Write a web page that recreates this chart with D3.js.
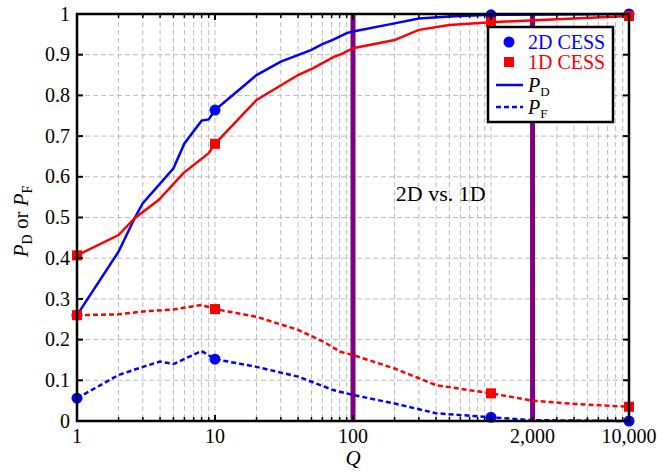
<!DOCTYPE html>
<html>
<head>
<meta charset="utf-8">
<script src="https://cdn.jsdelivr.net/npm/d3@7"></script>
<style>
  body { margin: 0; background: #fff; }
  text { font-family: "Liberation Serif", "DejaVu Serif", serif; }
</style>
</head>
<body>
<div id="chart"></div>
<script>

////////// DATA //////////

// 2D CESS, detection probability
var q2dPD = [1, 2, 2.63, 3, 5, 6, 8, 9, 10, 20, 30, 50, 60, 72, 90, 100, 200, 300, 500, 1000, 10000];
var v2dPD = [0.26, 0.416, 0.5, 0.535, 0.621, 0.682, 0.738, 0.741, 0.764, 0.85, 0.883, 0.912, 0.926, 0.937, 0.953, 0.957, 0.977, 0.989, 0.994, 0.998, 1.0];

// 1D CESS, detection probability
var q1dPD = [1, 2, 2.63, 3.9, 5.9, 9, 10, 20, 40, 51.5, 72, 83, 100, 200, 300, 500, 1000, 10000];
var v1dPD = [0.407, 0.457, 0.499, 0.543, 0.609, 0.658, 0.681, 0.789, 0.85, 0.867, 0.894, 0.902, 0.916, 0.936, 0.961, 0.973, 0.98, 0.995];

// 2D CESS, false alarm probability
var q2dPF = [1, 2, 3, 4, 5, 8, 10, 20, 40, 72, 100, 200, 400, 1000, 2000, 10000];
var v2dPF = [0.056, 0.113, 0.133, 0.146, 0.14, 0.172, 0.152, 0.133, 0.109, 0.076, 0.064, 0.043, 0.019, 0.009, 0.002, 0.0];

// 1D CESS, false alarm probability
var q1dPF = [1, 2, 3, 5, 8, 10, 20, 40, 61, 81, 100, 200, 400, 1000, 2000, 4000, 10000];
var v1dPF = [0.26, 0.262, 0.269, 0.274, 0.285, 0.275, 0.256, 0.224, 0.195, 0.17, 0.162, 0.129, 0.088, 0.068, 0.05, 0.042, 0.035];

// marker positions
var markerQ = [1, 10, 1000, 10000];

var xTickValues = [1, 10, 100, 2000, 10000];
var xTickLabels = ["1", "10", "100", "2,000", "10,000"];
var yTickValues = [0, 0.1, 0.2, 0.3, 0.4, 0.5, 0.6, 0.7, 0.8, 0.9, 1];
var boundaries = [100, 2000];


////////// SETUP //////////

var width = 670, height = 472;
var margin = { top: 14, right: 41, bottom: 51, left: 77 };
var innerW = width - margin.left - margin.right;
var innerH = height - margin.top - margin.bottom;

var blue = "#0000ff", red = "#ff0000", purple = "#800080";

var x = d3.scaleLog()
    .domain([1, 10000])
    .range([0, innerW]);

var y = d3.scaleLinear()
    .domain([0, 1])
    .range([innerH, 0]);

var svg = d3.select("#chart")
  .append("svg")
    .attr("width", width)
    .attr("height", height);

var g = svg.append("g")
    .attr("transform", "translate(" + margin.left + "," + margin.top + ")");

// minor log positions 1..9 per decade
var logTicks = [];
[1, 10, 100, 1000].forEach(function(dec) {
  for (var k = 1; k < 10; k++) logTicks.push(dec * k);
});
logTicks.push(10000);


////////// GRID //////////

var grid = g.append("g").attr("class", "grid");

grid.selectAll(".vgrid")
    .data(logTicks.slice(1, -1))
    .enter()
    .append("line")
    .attr("x1", function(d) { return x(d); })
    .attr("x2", function(d) { return x(d); })
    .attr("y1", 0)
    .attr("y2", innerH)
    .style("stroke", "#bdbdbd")
    .style("stroke-width", 1)
    .style("stroke-dasharray", "5,3");

grid.selectAll(".hgrid")
    .data(yTickValues.slice(1, -1))
    .enter()
    .append("line")
    .attr("x1", 0)
    .attr("x2", innerW)
    .attr("y1", function(d) { return y(d); })
    .attr("y2", function(d) { return y(d); })
    .style("stroke", "#bdbdbd")
    .style("stroke-width", 1)
    .style("stroke-dasharray", "5,3");


////////// BOUNDARY LINES //////////

g.selectAll(".boundary")
    .data(boundaries)
    .enter()
    .append("line")
    .attr("x1", function(d) { return x(d); })
    .attr("x2", function(d) { return x(d); })
    .attr("y1", 0)
    .attr("y2", innerH)
    .style("stroke", purple)
    .style("stroke-width", 5);

g.append("text")
    .attr("x", (x(100) + x(2000)) / 2 - 2)
    .attr("y", y(0.54))
    .attr("text-anchor", "middle")
    .style("font-size", "22px")
    .text("2D vs. 1D");


////////// CURVES //////////

var line = d3.line()
    .x(function(d) { return x(d[0]); })
    .y(function(d) { return y(d[1]); });

function pairs(qs, vs) {
  return qs.map(function(q, i) { return [q, vs[i]]; });
}

var series = [
  { q: q2dPF, v: v2dPF, color: blue, dash: "5,3" },
  { q: q2dPD, v: v2dPD, color: blue, dash: null },
  { q: q1dPF, v: v1dPF, color: red, dash: "5,3" },
  { q: q1dPD, v: v1dPD, color: red, dash: null }
];

series.forEach(function(s) {
  g.append("path")
      .datum(pairs(s.q, s.v))
      .attr("d", line)
      .style("fill", "none")
      .style("stroke", s.color)
      .style("stroke-width", 2.5)
      .style("stroke-dasharray", s.dash);
});

// markers
function valueAt(qs, vs, q) { return vs[qs.indexOf(q)]; }

[[q2dPD, v2dPD], [q2dPF, v2dPF]].forEach(function(s) {
  g.selectAll(null)
      .data(markerQ)
      .enter()
      .append("circle")
      .attr("cx", function(d) { return x(d); })
      .attr("cy", function(d) { return y(valueAt(s[0], s[1], d)); })
      .attr("r", 5.5)
      .style("fill", blue);
});

[[q1dPD, v1dPD], [q1dPF, v1dPF]].forEach(function(s) {
  g.selectAll(null)
      .data(markerQ)
      .enter()
      .append("rect")
      .attr("x", function(d) { return x(d) - 5; })
      .attr("y", function(d) { return y(valueAt(s[0], s[1], d)) - 5; })
      .attr("width", 10)
      .attr("height", 10)
      .style("fill", red);
});


////////// AXES //////////

var ticks = g.append("g").attr("class", "ticks");

// x ticks bottom and top (inward)
logTicks.forEach(function(d) {
  var major = [1, 10, 100, 1000, 10000].indexOf(d) >= 0;
  var len = major ? 6 : 4;
  ticks.append("line")
      .attr("x1", x(d)).attr("x2", x(d))
      .attr("y1", innerH).attr("y2", innerH - len)
      .style("stroke", "#000").style("stroke-width", major ? 2 : 1.5);
  ticks.append("line")
      .attr("x1", x(d)).attr("x2", x(d))
      .attr("y1", 0).attr("y2", len)
      .style("stroke", "#000").style("stroke-width", major ? 2 : 1.5);
});

// y ticks left and right (inward)
yTickValues.forEach(function(d) {
  ticks.append("line")
      .attr("x1", 0).attr("x2", 6)
      .attr("y1", y(d)).attr("y2", y(d))
      .style("stroke", "#000").style("stroke-width", 2);
  ticks.append("line")
      .attr("x1", innerW).attr("x2", innerW - 6)
      .attr("y1", y(d)).attr("y2", y(d))
      .style("stroke", "#000").style("stroke-width", 2);
});

// frame
g.append("rect")
    .attr("x", 0)
    .attr("y", 0)
    .attr("width", innerW)
    .attr("height", innerH)
    .style("fill", "none")
    .style("stroke", "#000")
    .style("stroke-width", 2.5);

// tick labels
g.selectAll(".xlabel")
    .data(xTickValues)
    .enter()
    .append("text")
    .attr("x", function(d) { return x(d); })
    .attr("y", innerH + 22)
    .attr("text-anchor", "middle")
    .style("font-size", "20px")
    .text(function(d, i) { return xTickLabels[i]; });

g.selectAll(".ylabel")
    .data(yTickValues)
    .enter()
    .append("text")
    .attr("x", -7)
    .attr("y", function(d) { return y(d); })
    .attr("dy", "0.33em")
    .attr("text-anchor", "end")
    .style("font-size", "20px")
    .text(function(d) { return (d === 0 || d === 1) ? d : d.toFixed(1); });

// axis titles
g.append("text")
    .attr("x", innerW / 2)
    .attr("y", innerH + 44)
    .attr("text-anchor", "middle")
    .style("font-size", "21px")
    .style("font-style", "italic")
    .text("Q");

var yTitle = svg.append("text")
    .attr("transform", "translate(28," + (margin.top + innerH / 2 + 4) + ") rotate(-90)")
    .attr("text-anchor", "middle")
    .style("font-size", "21px");
yTitle.append("tspan").style("font-style", "italic").text("P");
yTitle.append("tspan").attr("dy", 4).style("font-size", "14px").text("D");
yTitle.append("tspan").attr("dy", -4).text(" or ");
yTitle.append("tspan").style("font-style", "italic").text("P");
yTitle.append("tspan").attr("dy", 4).style("font-size", "14px").text("F");


////////// LEGEND //////////

var legend = svg.append("g")
    .attr("transform", "translate(488,27)");

legend.append("rect")
    .attr("width", 125)
    .attr("height", 95)
    .style("fill", "#fff")
    .style("stroke", "#000")
    .style("stroke-width", 2.5);

legend.append("circle")
    .attr("cx", 21).attr("cy", 15).attr("r", 5.5)
    .style("fill", blue);
legend.append("text")
    .attr("x", 40).attr("y", 15).attr("dy", "0.35em")
    .style("font-size", "20px").style("fill", blue)
    .text("2D CESS");

legend.append("rect")
    .attr("x", 16).attr("y", 30).attr("width", 10).attr("height", 10)
    .style("fill", red);
legend.append("text")
    .attr("x", 40).attr("y", 35).attr("dy", "0.35em")
    .style("font-size", "20px").style("fill", red)
    .text("1D CESS");

legend.append("line")
    .attr("x1", 8).attr("x2", 35).attr("y1", 58).attr("y2", 58)
    .style("stroke", blue).style("stroke-width", 2.5);
var tD = legend.append("text")
    .attr("x", 40).attr("y", 58).attr("dy", "0.35em")
    .style("font-size", "20px");
tD.append("tspan").style("font-style", "italic").text("P");
tD.append("tspan").attr("dy", 4).style("font-size", "13px").text("D");

legend.append("line")
    .attr("x1", 8).attr("x2", 35).attr("y1", 80).attr("y2", 80)
    .style("stroke", blue).style("stroke-width", 2.5)
    .style("stroke-dasharray", "5,3");
var tF = legend.append("text")
    .attr("x", 40).attr("y", 80).attr("dy", "0.35em")
    .style("font-size", "20px");
tF.append("tspan").style("font-style", "italic").text("P");
tF.append("tspan").attr("dy", 4).style("font-size", "13px").text("F");

</script>
</body>
</html>
